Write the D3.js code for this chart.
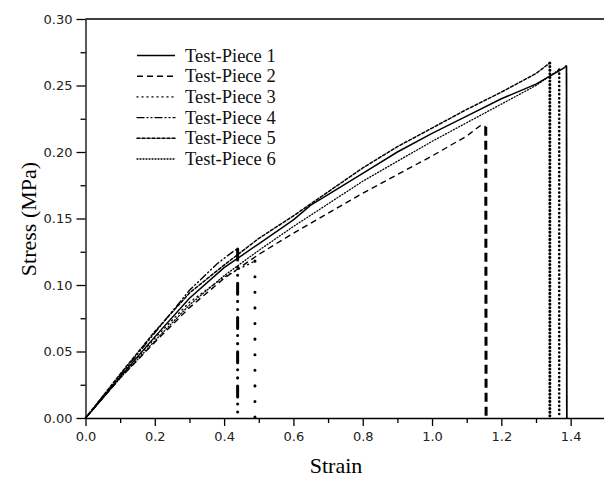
<!DOCTYPE html>
<html lang="en">
  <head>
    <meta charset="UTF-8" />
    <title>Stress-Strain</title>
    <script src="https://d3js.org/d3.v7.min.js"></script>
    <style>
      body { margin: 0; background: #fff; }
      .tick text { font-family: "DejaVu Sans", Arial, sans-serif; font-size: 13px; fill: #222; }
      .axis path, .axis line { stroke: #000; stroke-width: 1.3; }
    </style>
  </head>
  <body>
    <script>
      let width = 604, height = 477;

      // strain/stress readings per test piece (last point = drop to zero at failure)
      const piece1 = [[0,0],[0.05,0.015],[0.1,0.031],[0.2,0.061],[0.3,0.09],[0.4,0.113],[0.5,0.131],[0.6,0.149],[0.65,0.16],[0.7,0.168],[0.8,0.184],[0.9,0.2],[1.0,0.214],[1.1,0.227],[1.2,0.24],[1.3,0.251],[1.38,0.263],[1.388,0.265],[1.389,0]];
      const piece2 = [[0,0],[0.1,0.03],[0.2,0.057],[0.3,0.083],[0.4,0.105],[0.5,0.123],[0.6,0.139],[0.7,0.154],[0.8,0.169],[0.9,0.183],[1.0,0.197],[1.1,0.212],[1.14,0.22],[1.155,0.219],[1.156,0]];
      const piece3 = [[0,0],[0.1,0.031],[0.2,0.06],[0.3,0.087],[0.4,0.106],[0.45,0.113],[0.489,0.118],[0.489,0]];
      const piece4 = [[0,0],[0.1,0.032],[0.2,0.064],[0.3,0.096],[0.38,0.116],[0.43,0.126],[0.439,0.127],[0.439,0]];
      const piece5 = [[0,0],[0.1,0.033],[0.2,0.065],[0.3,0.094],[0.4,0.115],[0.5,0.135],[0.6,0.152],[0.7,0.17],[0.8,0.188],[0.9,0.204],[1.0,0.218],[1.1,0.232],[1.2,0.245],[1.3,0.259],[1.34,0.267],[1.34,0]];
      const piece6 = [[0,0],[0.1,0.03],[0.2,0.058],[0.3,0.085],[0.4,0.107],[0.5,0.126],[0.6,0.144],[0.7,0.161],[0.8,0.178],[0.9,0.193],[1.0,0.208],[1.1,0.222],[1.2,0.236],[1.3,0.25],[1.367,0.262],[1.367,0]];

      const names = ["Test-Piece 1","Test-Piece 2","Test-Piece 3","Test-Piece 4","Test-Piece 5","Test-Piece 6"];
      const xTicks = [0,0.2,0.4,0.6,0.8,1.0,1.2,1.4];
      const yTicks = [0,0.05,0.10,0.15,0.20,0.25,0.30];

      const series = [piece1, piece2, piece3, piece4, piece5, piece6];
      // curve dash, curve width, drop dash, drop width
      const styles = [
        {dash: null, w: 1.5, dropDash: null, dropW: 1.7, cap: "butt"},
        {dash: "6,4", w: 1.4, dropDash: "9,5", dropW: 3, cap: "butt"},
        {dash: "1,4", w: 1.4, dropDash: "0.1,15.5", dropW: 3, cap: "round"},
        {dash: "7,3,1,3,1,3", w: 1.4, dropDash: "11,7,0.1,8,0.1,8", dropW: 3, cap: "round"},
        {dash: "3,2", w: 1.5, dropDash: "0.1,3.5", dropW: 3, cap: "round"},
        {dash: "1,2", w: 1.3, dropDash: "0.1,4", dropW: 2.6, cap: "round"}
      ];

      const svg = d3.select("body").append("svg")
        .attr("width", width).attr("height", height);

      let x = d3.scaleLinear().domain([0, 1.5]).range([85.5, 605.3]);
      let y = d3.scaleLinear().domain([0, 0.30]).range([418, 19]);

      // minor ticks
      svg.append("g").attr("class","axis")
        .attr("transform","translate(0,418)")
        .call(d3.axisBottom(x).tickValues(d3.range(0.1, 1.5, 0.2)).tickSize(5).tickFormat(""))
        .select(".domain").remove();
      svg.append("g").attr("class","axis")
        .attr("transform","translate(85.5,0)")
        .call(d3.axisLeft(y).tickValues(d3.range(0.025, 0.3, 0.05)).tickSize(5).tickFormat(""))
        .select(".domain").remove();

      svg.append("g").attr("class","axis")
        .attr("transform","translate(0,418)")
        .call(d3.axisBottom(x).tickValues(xTicks).tickSize(8).tickSizeOuter(0).tickPadding(6).tickFormat(d3.format(".1f")));

      svg.append("g").attr("class","axis")
        .attr("transform","translate(85.5,0)")
        .call(d3.axisLeft(y).tickValues(yTicks).tickSize(9).tickSizeOuter(0).tickPadding(4).tickFormat(d3.format(".2f")));

      // top frame line
      svg.append("line")
        .attr("x1", x(0)).attr("x2", width)
        .attr("y1", y(0.30)).attr("y2", y(0.30))
        .attr("stroke", "#000").attr("stroke-width", 1.3);

      let line = d3.line().x(d => x(d[0])).y(d => y(d[1]));

      series.forEach(function (data, i) {
        let s = styles[i];
        svg.append("path")
          .datum(data.slice(0, -1))
          .attr("d", line)
          .attr("fill", "none")
          .attr("stroke", "#000")
          .attr("stroke-width", s.w)
          .attr("stroke-dasharray", s.dash)
          .attr("stroke-linecap", s.cap === "round" ? "round" : "butt");
        // failure drop
        svg.append("path")
          .datum(data.slice(-2))
          .attr("d", line)
          .attr("fill", "none")
          .attr("stroke", "#000")
          .attr("stroke-width", s.dropW)
          .attr("stroke-dasharray", s.dropDash)
          .attr("stroke-linecap", s.cap);
      });

      // legend
      let legend = svg.append("g");
      names.forEach(function (name, i) {
        let s = styles[i];
        let ly = 55.5 + i * 20.7;
        legend.append("line")
          .attr("x1", 137).attr("x2", 175)
          .attr("y1", ly).attr("y2", ly)
          .attr("stroke", "#000")
          .attr("stroke-width", s.w)
          .attr("stroke-dasharray", s.dash)
          .attr("stroke-linecap", s.cap === "round" ? "round" : "butt");
        legend.append("text")
          .attr("x", 185).attr("y", ly + 6)
          .attr("font-family", "'Liberation Serif', 'Times New Roman', serif")
          .attr("font-size", 18.5)
          .attr("fill", "#111")
          .text(name);
      });

      svg.append("text")
        .attr("x", 336).attr("y", 473)
        .attr("text-anchor", "middle")
        .attr("font-family", "'Liberation Serif', 'Times New Roman', serif")
        .attr("font-size", 22)
        .text("Strain");

      svg.append("text")
        .attr("transform", "translate(36,219) rotate(-90)")
        .attr("text-anchor", "middle")
        .attr("font-family", "'Liberation Serif', 'Times New Roman', serif")
        .attr("font-size", 22)
        .text("Stress (MPa)");
    </script>
  </body>
</html>
